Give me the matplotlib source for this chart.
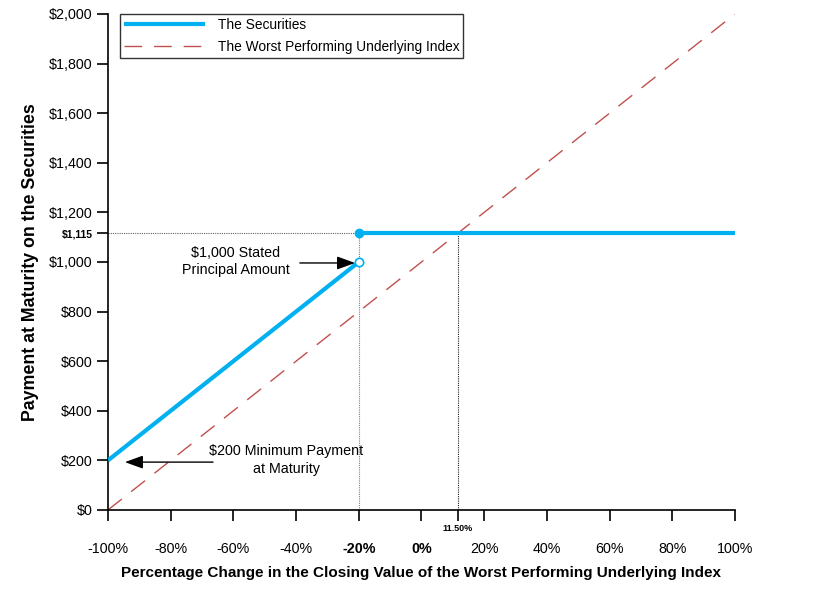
import numpy as np
import matplotlib.pyplot as plt

plt.rcParams['font.family'] = ['Liberation Sans', 'DejaVu Sans']

# data
sec_x_low = [-100, -20]
sec_y_low = [200, 1000]
sec_x_high = [-20, 100]
sec_y_high = [1115, 1115]
idx_x = [-100, 100]
idx_y = [0, 2000]
barrier = -20
cap_pct = 11.5
cap_pay = 1115

x_ticks = [-100, -80, -60, -40, -20, 0, 20, 40, 60, 80, 100]
x_labels = ['-100%', '-80%', '-60%', '-40%', '-20%', '0%', '20%', '40%', '60%', '80%', '100%']
y_ticks = [0, 200, 400, 600, 800, 1000, 1200, 1400, 1600, 1800, 2000]
y_labels = ['$0', '$200', '$400', '$600', '$800', '$1,000', '$1,200', '$1,400', '$1,600', '$1,800', '$2,000']

blue = '#00B0F0'
red = '#C0504D'

fig = plt.figure(figsize=(8.25, 5.95), dpi=100)
ax = fig.add_axes([0.1309, 0.1429, 0.76, 0.8336])

# reference lines
ax.plot([barrier, barrier], [0, cap_pay], color='#808080', lw=0.8, ls=(0, (1, 1)), zorder=1)
ax.plot([cap_pct, cap_pct], [0, cap_pay], color='#202020', lw=0.8, ls=(0, (1, 1)), zorder=1)
ax.plot([-100, barrier], [cap_pay, cap_pay], color='#606060', lw=0.8, ls=(0, (1, 1)), zorder=1)

ax.plot(idx_x, idx_y, color=red, lw=1.0, ls=(0, (12.7, 8.6)), label='The Worst Performing Underlying Index', zorder=2)
ax.plot(sec_x_low, sec_y_low, color=blue, lw=3, solid_capstyle='butt', zorder=3)
ax.plot(sec_x_high, sec_y_high, color=blue, lw=3, solid_capstyle='butt', zorder=3, label='The Securities')
ax.plot([barrier], [cap_pay], 'o', color=blue, ms=6, zorder=4)
ax.plot([barrier], [1000], 'o', mfc='white', mec=blue, mew=1.2, ms=6, zorder=4)

ax.set_xlim(-100, 100)
ax.set_ylim(0, 2000)
for s in ['top', 'right']:
    ax.spines[s].set_visible(False)
ax.spines['left'].set_linewidth(1.2)
ax.spines['bottom'].set_linewidth(1.2)

ax.set_xticks(x_ticks + [cap_pct])
ax.set_xticklabels(x_labels + [''])
ax.set_yticks(y_ticks + [cap_pay])
ax.set_yticklabels(y_labels + ['$1,115'])
ax.tick_params(axis='x', length=8, width=1.2, pad=15, labelsize=10.3)
ax.tick_params(axis='y', length=8, width=1.2, pad=3, labelsize=10.3)
for t in ax.get_xticklabels():
    if t.get_text() in ('-20%', '0%'):
        t.set_fontweight('bold')
yl = ax.get_yticklabels()
yl[-1].set_fontsize(7.5)
yl[-1].set_fontweight('bold')

ax.text(cap_pct, -75, '11.50%', fontsize=6.5, fontweight='bold', ha='center', va='center')

ax.set_xlabel('Percentage Change in the Closing Value of the Worst Performing Underlying Index',
              fontsize=11, fontweight='bold', labelpad=7)
ax.set_ylabel('Payment at Maturity on the Securities', fontsize=12.8, fontweight='bold', labelpad=7)

arrow = dict(arrowstyle='-|>,head_width=0.4,head_length=1.1', color='black', lw=1,
             shrinkA=0, shrinkB=0)
ax.text(-59.2, 1002, '$1,000 Stated\nPrincipal Amount', ha='center', va='center',
        fontsize=10.3, linespacing=1.3)
ax.annotate('', xy=(-21.2, 996), xytext=(-38.8, 996), arrowprops=arrow)
ax.text(-43.2, 201, '$200 Minimum Payment\nat Maturity', ha='center', va='center',
        fontsize=10.3, linespacing=1.3)
ax.annotate('', xy=(-94.6, 193), xytext=(-66.5, 193), arrowprops=arrow)

h, l = ax.get_legend_handles_labels()
leg = ax.legend(h[::-1], l[::-1], loc='upper left', bbox_to_anchor=(0.019, 1.0), fontsize=9.9,
                frameon=True, fancybox=False, edgecolor='black', handlelength=5.9,
                borderpad=0.3, labelspacing=0.55, handletextpad=0.9, borderaxespad=0)
leg.get_frame().set_linewidth(1)

fig.savefig('out.png', dpi=100)
